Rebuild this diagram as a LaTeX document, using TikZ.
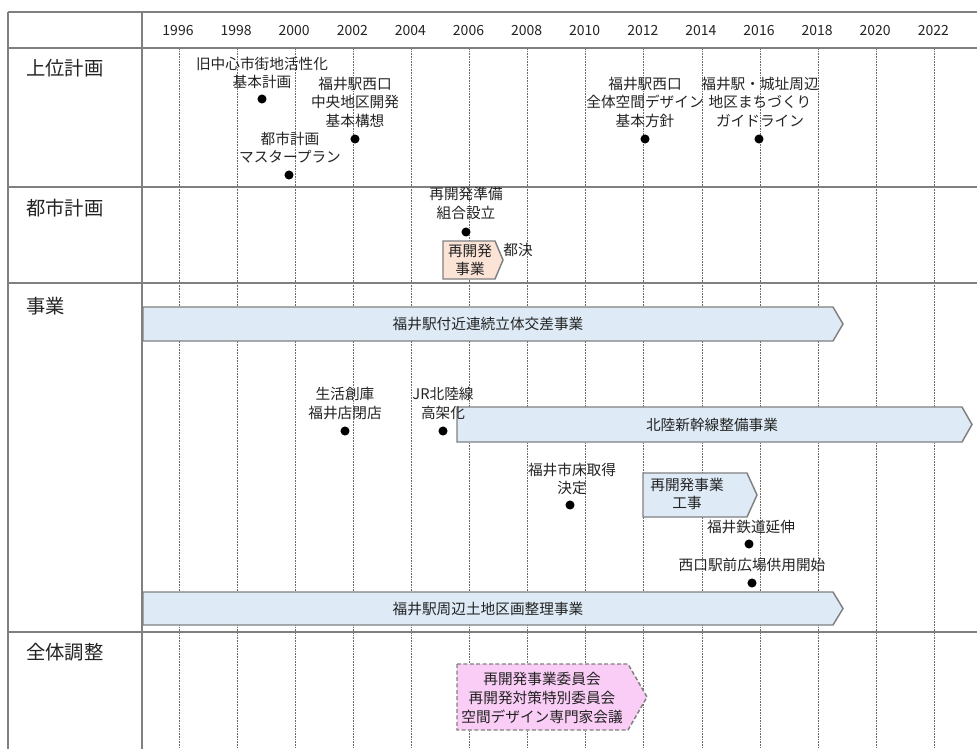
\documentclass[tikz,border=0pt]{standalone}
\usepackage{fontspec}
\setmainfont{Noto Sans CJK JP}
\usepackage{xcolor}
\usepackage{tikz}
\usetikzlibrary{positioning}
\definecolor{gridgray}{RGB}{105,105,105}
\definecolor{framegray}{RGB}{128,128,128}
\definecolor{barblue}{RGB}{222,235,247}
\definecolor{barpeach}{RGB}{251,227,214}
\definecolor{barpink}{RGB}{249,205,245}
\definecolor{textgray}{RGB}{35,35,35}

\begin{document}
\begin{tikzpicture}[x=0.75pt, y=-0.75pt,
    frame/.style={draw=framegray, line width=0.9pt},
    gridline/.style={draw=gridgray, line width=0.6pt, dash pattern=on 1.2pt off 0.8pt},
    bar/.style={draw=framegray, line width=1.1pt, fill=barblue},
    note/.style={text=textgray, align=center, inner sep=0pt,
                 font=\fontsize{11}{13.9}\selectfont},
    rowlabel/.style={text=textgray, anchor=west, inner sep=0pt,
                     font=\fontsize{14.5}{17}\selectfont},
    yearlabel/.style={text=textgray, inner sep=0pt, font=\fontsize{10.5}{12}\selectfont},
    dotmark/.style={circle, fill=black, inner sep=0pt, minimum size=6.8pt}]
  \useasboundingbox (0,0) rectangle (977,749);

  % year columns
  \foreach \yr [count=\i from 0] in {1996,1998,...,2022}{
    \draw[gridline] (179+\i*58.1,48) -- (179+\i*58.1,749);
    \node[yearlabel] (y\yr) at (178+\i*58.1,31) {\yr};
  }

  % table frame
  \foreach \y in {12,48,187,283,632}
    \draw[frame] (8,\y) -- (977,\y);
  \draw[frame] (8,12) -- (8,749);
  \draw[frame] (142,12) -- (142,749);

  \node[rowlabel] (jouikeikaku) at (26,68)  {上位計画};
  \node[rowlabel] (toshikeikaku) at (26,208) {都市計画};
  \node[rowlabel] (jigyou) at (26,306) {事業};
  \node[rowlabel] (zentai) at (26,652) {全体調整};

  % bars: left/body end/tip/top/bottom/fill
  \foreach \l/\m/\r/\t/\b/\c in {
      143/833/843/307/341/barblue,
      457/962/972/407/442/barblue,
      443/495/503/241/279/barpeach,
      643/747/757/473/517/barblue,
      143/833/843/592/625/barblue%
    }{
    \draw[bar, fill=\c] (\l,\t) -- (\m,\t) -- (\r,{(\t+\b)/2}) -- (\m,\b) -- (\l,\b) -- cycle;
  }
  \draw[bar, fill=barpink, line width=1.1pt, dash pattern=on 3pt off 1.8pt]
    (457,664) -- (628,664) -- (647,697) -- (628,730) -- (457,730) -- cycle;

  \node[note] (renritsu) at (488,324) {福井駅付近連続立体交差事業};
  \node[note] (shinkansen) at (712,425) {北陸新幹線整備事業};
  \node[note] (saikaihatsu) at (470,260) {再開発\\事業};
  \node[note] (koji) at (687,494) {再開発事業\\工事};
  \node[note] (kukaku) at (488,609) {福井駅周辺土地区画整理事業};
  \node[note] (iinkai) at (542,698) {再開発事業委員会\\再開発対策特別委員会\\空間デザイン専門家会議};
  \node[note] (toketsu) at (518,250) {都決};

  % events
  \foreach \x/\y/\tx/\ty/\txt [count=\k] in {
      262/99/262/73/{旧中心市街地活性化\\基本計画},
      355/139/355/102/{福井駅西口\\中央地区開発\\基本構想},
      289/175/290/147.5/{都市計画\\マスタープラン},
      645/139/645/102/{福井駅西口\\全体空間デザイン\\基本方針},
      759/139/760/102/{福井駅・城址周辺\\地区まちづくり\\ガイドライン},
      466/232/466/203.5/{再開発準備\\組合設立},
      345/431/345/403.5/{生活創庫\\福井店閉店},
      443/431/443/403.5/{JR北陸線\\高架化},
      570/505/572/479/{福井市床取得\\決定},
      749/544/751/527/{福井鉄道延伸},
      752/583/752/565/{西口駅前広場供用開始}%
    }{
    \node[dotmark] (ev\k) at (\x,\y) {};
    \node[note] (evtext\k) at (\tx,\ty) {\txt};
  }
\end{tikzpicture}
\end{document}
